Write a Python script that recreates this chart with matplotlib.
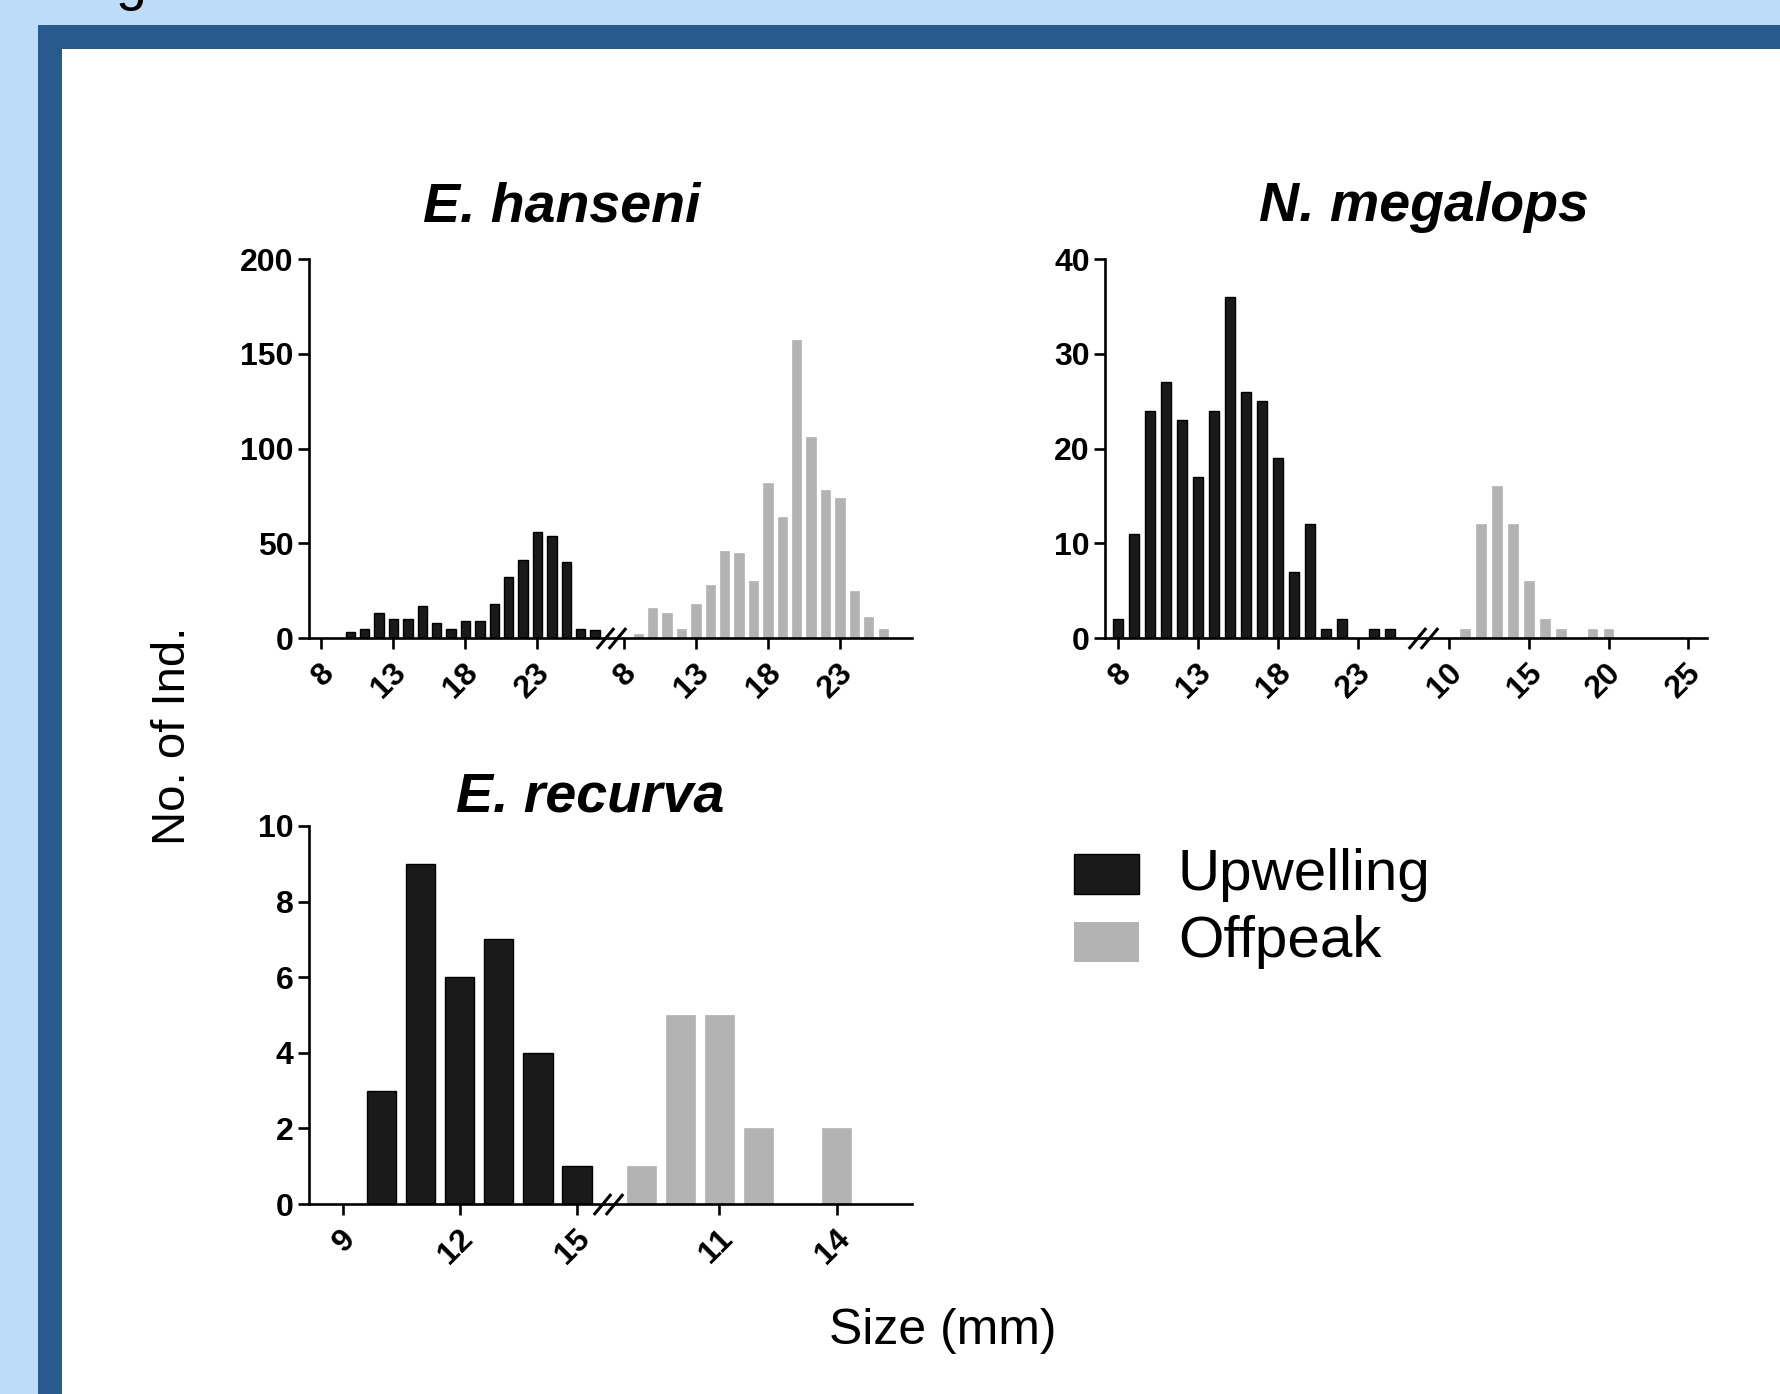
import matplotlib
matplotlib.use("Agg")
import matplotlib.pyplot as plt
from matplotlib.patches import Rectangle
from matplotlib.transforms import ScaledTranslation

plt.rcParams['font.family'] = ['Liberation Sans', 'DejaVu Sans']

W, H = 1781, 1394
UP_COLOR = '#1a1a1a'
OFF_COLOR = '#b3b3b3'

# E. hanseni (size class in mm, number of individuals)
hanseni_up_size = [10, 11, 12, 13, 14, 15, 16, 17, 18, 19, 20, 21, 22, 23, 24, 25, 26, 27]
hanseni_up_count = [3, 5, 13, 10, 10, 17, 8, 5, 9, 9, 18, 32, 41, 56, 54, 40, 5, 4]
hanseni_off_size = [9, 10, 11, 12, 13, 14, 15, 16, 17, 18, 19, 20, 21, 22, 23, 24, 25, 26]
hanseni_off_count = [2, 16, 13, 5, 18, 28, 46, 45, 30, 82, 64, 157, 106, 78, 74, 25, 11, 5]
hanseni_ticks_up = [8, 13, 18, 23]
hanseni_ticks_off = [8, 13, 18, 23]

# N. megalops
megalops_up_size = [8, 9, 10, 11, 12, 13, 14, 15, 16, 17, 18, 19, 20, 21, 22, 24, 25]
megalops_up_count = [2, 11, 24, 27, 23, 17, 24, 36, 26, 25, 19, 7, 12, 1, 2, 1, 1]
megalops_off_size = [11, 12, 13, 14, 15, 16, 17, 19, 20]
megalops_off_count = [1, 12, 16, 12, 6, 2, 1, 1, 1]
megalops_ticks_up = [8, 13, 18, 23]
megalops_ticks_off = [10, 15, 20, 25]

# E. recurva
recurva_up_size = [10, 11, 12, 13, 14, 15]
recurva_up_count = [3, 9, 6, 7, 4, 1]
recurva_off_size = [9, 10, 11, 12, 14]
recurva_off_count = [1, 5, 5, 2, 2]
recurva_ticks_up = [9, 12, 15]
recurva_ticks_off = [11, 14]


def px_axes(fig, x0, y0, x1, y1):
    # axes placed by pixel box (left, top, right, bottom)
    return fig.add_axes([x0 / W, 1 - y1 / H, (x1 - x0) / W, (y1 - y0) / H])


def draw_panel(fig, ax, up_x, up_y, off_x, off_y, shift, width, xlim, ymax, ystep,
               ticks_up, ticks_off, brk):
    ax.patch.set_alpha(0)
    ax.bar(up_x, up_y, width=width, color=UP_COLOR, edgecolor='black', linewidth=1, zorder=3)
    ax.bar([s + shift for s in off_x], off_y, width=width, color=OFF_COLOR,
           edgecolor=OFF_COLOR, linewidth=0.5, zorder=3)
    ax.set_xlim(*xlim)
    ax.set_ylim(0, ymax)
    ax.set_yticks(range(0, ymax + 1, ystep))
    ax.set_xticks(ticks_up + [t + shift for t in ticks_off])
    ax.set_xticklabels([str(t) for t in ticks_up + ticks_off])
    for side in ('top', 'right'):
        ax.spines[side].set_visible(False)
    for side in ('left', 'bottom'):
        ax.spines[side].set_linewidth(1.9)
    ax.spines['bottom'].set_zorder(4)
    ax.tick_params(axis='both', direction='out', length=8, width=1.9, labelsize=23)
    ax.tick_params(axis='y', pad=3)
    ax.tick_params(axis='x', pad=14)
    for lab in ax.get_yticklabels():
        lab.set_fontweight('bold')
    offs = ScaledTranslation(6 / 72, 0, fig.dpi_scale_trans)
    for lab in ax.get_xticklabels():
        lab.set_fontweight('bold')
        lab.set_rotation(45)
        lab.set_ha('right')
        lab.set_va('center')
        lab.set_rotation_mode('anchor')
        lab.set_transform(lab.get_transform() + offs)
    # axis break marks "//"
    px_per_unit = ax.bbox.width / (xlim[1] - xlim[0])
    d = 6 / px_per_unit
    ax.plot([brk - d, brk + d], [0, 0], linestyle='none', marker=[(-1, -1.2), (1, 1.2)],
            markersize=15, markeredgewidth=2.2, color='black', clip_on=False, zorder=5)


fig = plt.figure(figsize=(W / 100, H / 100), dpi=100)
fig.patch.set_facecolor('#bddcf8')
fig.add_artist(Rectangle((38 / W, 0), 1, 1 - 25 / H, transform=fig.transFigure,
                         facecolor='#285a8e', edgecolor='none', zorder=-10))
fig.add_artist(Rectangle((62 / W, 0), 1, 1 - 49 / H, transform=fig.transFigure,
                         facecolor='white', edgecolor='none', zorder=-9))
# descender of the cut-off heading above the frame
fig.text(116 / W, 1 + 1 / H, "g", fontsize=40, va='baseline', ha='left', color='black')

ax1 = px_axes(fig, 309, 259, 912, 638)
draw_panel(fig, ax1, hanseni_up_size, hanseni_up_count, hanseni_off_size, hanseni_off_count,
           21, 0.65, (7.14, 49.0), 200, 50, hanseni_ticks_up, hanseni_ticks_off, 28.1)

ax2 = px_axes(fig, 1105, 259, 1707, 638)
draw_panel(fig, ax2, megalops_up_size, megalops_up_count, megalops_off_size, megalops_off_count,
           18.7, 0.62, (7.16, 44.87), 40, 10, megalops_ticks_up, megalops_ticks_off, 27.1)

ax3 = px_axes(fig, 309, 826, 912, 1204)
draw_panel(fig, ax3, recurva_up_size, recurva_up_count, recurva_off_size, recurva_off_count,
           7.65, 0.75, (8.14, 23.58), 10, 2, recurva_ticks_up, recurva_ticks_off, 15.8)

# panel titles (placed as in the original, not centred on the axes)
title_kw = dict(fontsize=40, fontweight='bold', fontstyle='italic', va='center', ha='center')
fig.text(562 / W, 1 - 208 / H, "E. hanseni", **title_kw)
fig.text(1424 / W, 1 - 207 / H, "N. megalops", **title_kw)
fig.text(590 / W, 1 - 797 / H, "E. recurva", **title_kw)

# legend drawn by hand
fig.add_artist(Rectangle((1074 / W, 1 - 894 / H), 65 / W, 40 / H, transform=fig.transFigure,
                         facecolor=UP_COLOR, edgecolor='black', linewidth=1))
fig.add_artist(Rectangle((1074 / W, 1 - 962 / H), 65 / W, 40 / H, transform=fig.transFigure,
                         facecolor=OFF_COLOR, edgecolor='none'))
fig.text(1178 / W, 1 - 875 / H, "Upwelling", fontsize=42, va='center', ha='left')
fig.text(1178 / W, 1 - 942 / H, "Offpeak", fontsize=42, va='center', ha='left')

fig.text(173 / W, 1 - 736 / H, "No. of Ind.", fontsize=34, rotation=90, va='center', ha='center')
fig.text(943 / W, 1 - 1331 / H, "Size (mm)", fontsize=36, va='center', ha='center')

fig.savefig("out.png", dpi=100)
